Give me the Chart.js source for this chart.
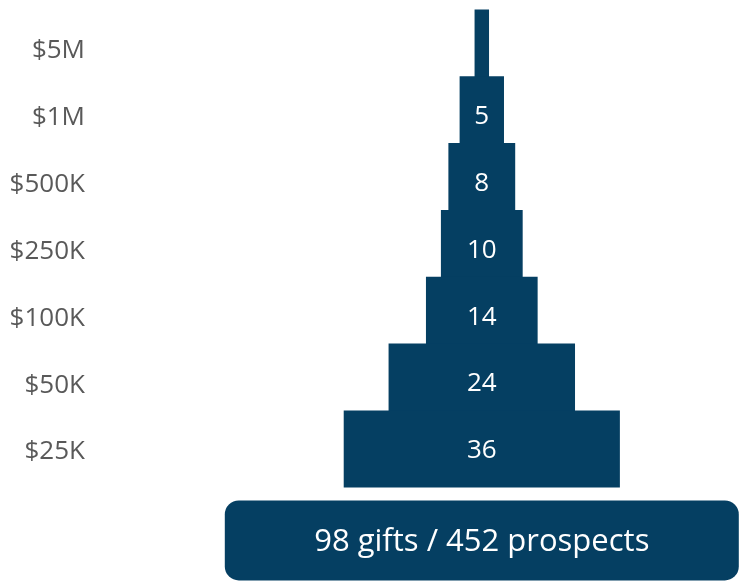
<!DOCTYPE html>
<html>
<head>
<meta charset="utf-8">
<script src="https://cdn.jsdelivr.net/npm/chart.js@4.4.1/dist/chart.umd.min.js"></script>
<style>
  html, body { margin: 0; padding: 0; background: #fff; }
  #wrap { width: 742px; height: 587px; }
</style>
</head>
<body>
<div id="wrap"><canvas id="chart"></canvas></div>
<script>
// gift pyramid: gifts needed at each level
const levels = ['$5M', '$1M', '$500K', '$250K', '$100K', '$50K', '$25K'];
const gifts = [1, 5, 8, 10, 14, 24, 36];
const prospects = 452;

const navy = '#053f62';
const fontFamily = "'Open Sans', 'Noto Sans', sans-serif";
const capHalf = 0.357; // half the cap height of Open Sans, in em
const totalGifts = gifts.reduce((a, b) => a + b, 0);

// numbers inside the bars, skipped when the bar is too narrow
const valueLabels = {
  id: 'valueLabels',
  afterDatasetsDraw(chart) {
    const ctx = chart.ctx;
    const meta = chart.getDatasetMeta(0);
    const size = 26;
    ctx.save();
    ctx.font = `${size}px ${fontFamily}`;
    ctx.fillStyle = '#ffffff';
    ctx.textAlign = 'center';
    ctx.textBaseline = 'alphabetic';
    meta.data.forEach((bar, i) => {
      const text = String(gifts[i]);
      const p = bar.getCenterPoint();
      if (ctx.measureText(text).width + 8 > Math.abs(bar.width)) return;
      ctx.fillText(text, p.x, p.y + size * capHalf);
    });
    ctx.restore();
  }
};

// rounded total box under the pyramid
const totalBox = {
  id: 'totalBox',
  afterDraw(chart) {
    const { ctx, chartArea, scales } = chart;
    const cx = scales.x.getPixelForValue(0);
    const w = 514, h = 80, size = 31;
    const top = chartArea.bottom + 18;
    ctx.save();
    ctx.fillStyle = navy;
    ctx.beginPath();
    ctx.roundRect(cx - w / 2, top, w, h, 14);
    ctx.fill();
    ctx.fillStyle = '#ffffff';
    ctx.font = `${size}px ${fontFamily}`;
    ctx.textAlign = 'center';
    ctx.textBaseline = 'alphabetic';
    ctx.fillText(`${totalGifts} gifts / ${prospects} prospects`, cx, top + h / 2 + size * capHalf);
    ctx.restore();
  }
};

new Chart(document.getElementById('chart'), {
  type: 'bar',
  data: {
    labels: levels,
    datasets: [{
      data: gifts.map(v => [-v / 2, v / 2]),
      backgroundColor: navy,
      borderWidth: 0,
      barPercentage: 1.05,
      categoryPercentage: 1,
      inflateAmount: 3.5,
      clip: false
    }]
  },
  options: {
    indexAxis: 'y',
    responsive: true,
    maintainAspectRatio: false,
    animation: false,
    layout: { padding: { top: 14.6, bottom: 104.6, left: 0, right: 0 } },
    plugins: {
      legend: { display: false },
      tooltip: { enabled: false }
    },
    scales: {
      x: { type: 'linear', display: false, min: -52.4, max: 34.8 },
      y: {
        position: 'left',
        grid: { display: false, drawTicks: false },
        border: { display: false },
        ticks: {
          color: '#595959',
          font: { family: fontFamily, size: 26, lineHeight: 0.5 },
          padding: 5,
          labelOffset: 3
        },
        afterFit(scale) { scale.width = 90; }
      }
    }
  },
  plugins: [valueLabels, totalBox]
});
</script>
</body>
</html>
